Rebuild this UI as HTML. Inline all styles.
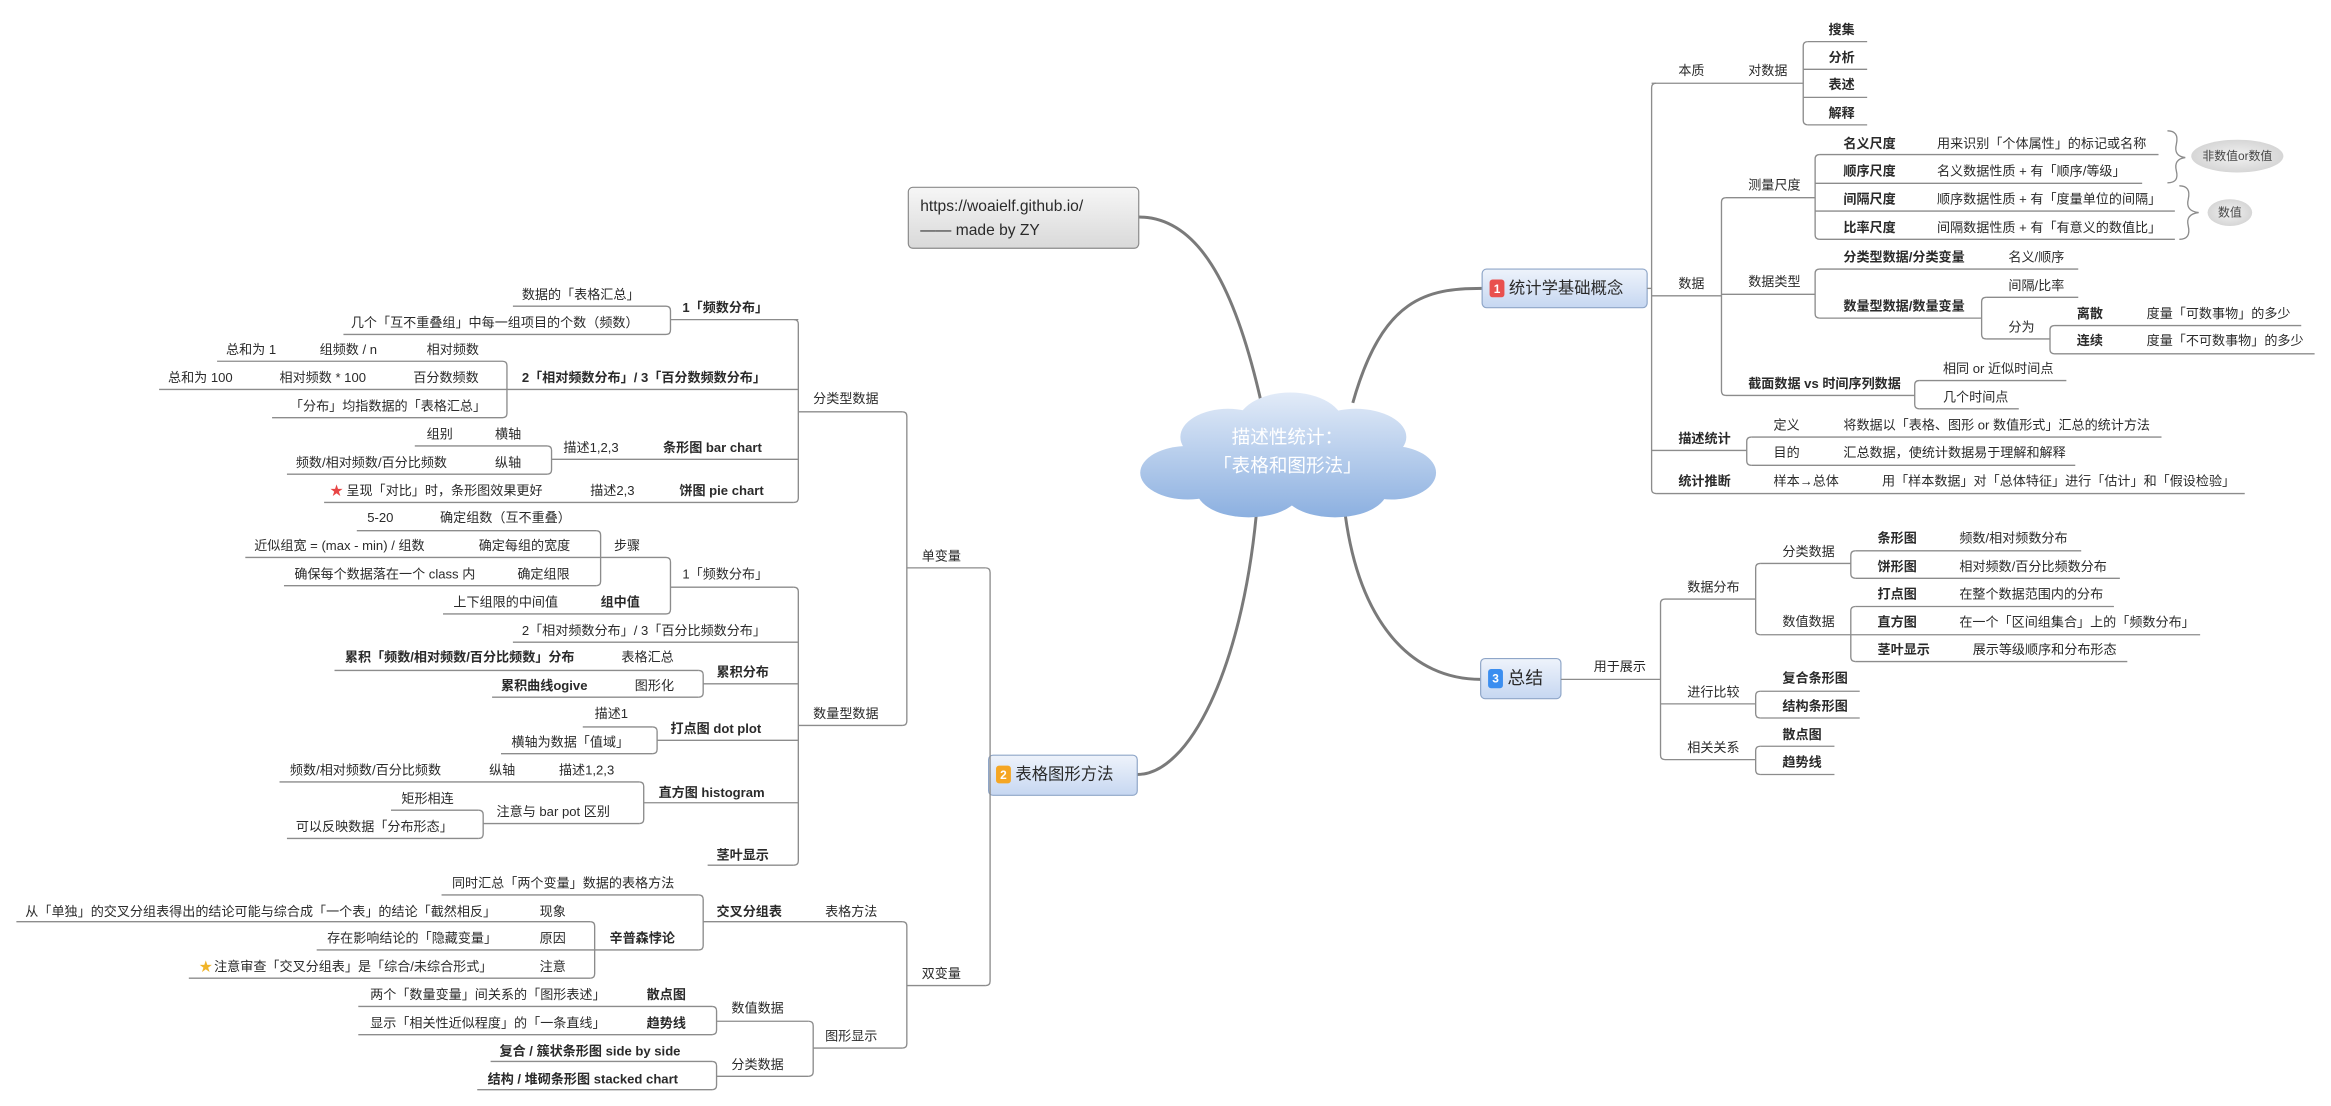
<!DOCTYPE html>
<html><head><meta charset="utf-8"><style>
html,body{margin:0;padding:0;background:#fff;}
svg{display:block}
text{font-family:"Liberation Sans","Noto Sans CJK SC",sans-serif;font-size:8.8px;fill:#2a2a2a;dominant-baseline:central}
.b{font-weight:bold}
.l{stroke:#8c8c8c;stroke-width:0.9;fill:none}
.c{stroke:#7a7a7a;stroke-width:2;fill:none}
</style></head><body>
<svg width="2331" height="1106" viewBox="0 0 1568 744" xmlns="http://www.w3.org/2000/svg">
<defs>
<linearGradient id="cg" x1="0" y1="264" x2="0" y2="348" gradientUnits="userSpaceOnUse"><stop offset="0" stop-color="#e2ebf8"/><stop offset="1" stop-color="#8cb0e0"/></linearGradient>
<linearGradient id="bg" x1="0" y1="0" x2="0" y2="1"><stop offset="0" stop-color="#eef3fb"/><stop offset="1" stop-color="#c6d7f1"/></linearGradient>
<linearGradient id="gg" x1="0" y1="0" x2="0" y2="1"><stop offset="0" stop-color="#f6f6f6"/><stop offset="1" stop-color="#d9d9d9"/></linearGradient>
<radialGradient id="eg"><stop offset="0" stop-color="#f2f2f2"/><stop offset="1" stop-color="#d6d6d6"/></radialGradient>
</defs>

<!-- central connectors -->
<path class="c" d="M766,146 C805,146 830,190 848,269"/>
<path class="c" d="M910,271 C930,200 960,194 997,194"/>
<path class="c" d="M845,347 C835,450 800,521 765,521"/>
<path class="c" d="M905,347 C915,420 950,457 996,457"/>

<!-- cloud -->
<g fill="url(#cg)">
<ellipse cx="866" cy="310" rx="62" ry="28"/>
<ellipse cx="868" cy="286" rx="36" ry="22"/>
<ellipse cx="826" cy="294" rx="32" ry="19"/>
<ellipse cx="912" cy="294" rx="34" ry="19"/>
<ellipse cx="799" cy="318" rx="32" ry="18"/>
<ellipse cx="936" cy="318" rx="30" ry="18"/>
<ellipse cx="840" cy="330" rx="35" ry="18"/>
<ellipse cx="898" cy="330" rx="35" ry="18"/>
</g>
<text x="866" y="294" text-anchor="middle" style="fill:#fff;font-size:12.5px">描述性统计：</text>
<text x="866" y="313" text-anchor="middle" style="fill:#fff;font-size:12.5px">「表格和图形法」</text>

<!-- URL box -->
<rect x="611" y="126" width="155" height="41" rx="3" fill="url(#gg)" stroke="#8a8a8a" stroke-width="0.8"/>
<text x="619" y="139" style="font-size:10.5px">https://woaielf.github.io/</text>
<text x="619" y="155" style="font-size:10.5px">—— made by ZY</text>

<!-- Box 1 -->
<rect x="997" y="181" width="111" height="26" rx="3" fill="url(#bg)" stroke="#8fa6c8" stroke-width="0.8"/>
<rect x="1002" y="188" width="10" height="12" rx="2" fill="#e9504e"/>
<text x="1007" y="194.5" text-anchor="middle" style="fill:#fff;font-size:8px" class="b">1</text>
<text x="1015" y="194" style="font-size:11px">统计学基础概念</text>
<!-- Box 2 -->
<rect x="665" y="508" width="100" height="27" rx="3" fill="url(#bg)" stroke="#8fa6c8" stroke-width="0.8"/>
<rect x="670" y="515" width="10" height="12" rx="2" fill="#f5a623"/>
<text x="675" y="521.5" text-anchor="middle" style="fill:#fff;font-size:8px" class="b">2</text>
<text x="683" y="521" style="font-size:11px">表格图形方法</text>
<!-- Box 3 -->
<rect x="996" y="443" width="54" height="27" rx="3" fill="url(#bg)" stroke="#8fa6c8" stroke-width="0.8"/>
<rect x="1001" y="450" width="10" height="13" rx="2" fill="#3b8ef0"/>
<text x="1006" y="456.5" text-anchor="middle" style="fill:#fff;font-size:8px" class="b">3</text>
<text x="1014" y="456" style="font-size:12px">总结</text>

<!-- LEFT SIDE lines -->
<g class="l">
<line x1="345" y1="206" x2="448" y2="206"/><line x1="231" y1="225" x2="448" y2="225"/>
<path d="M448,206 Q451,206 451,209 L451,222 Q451,225 448,225"/>
<line x1="451" y1="215" x2="537" y2="215"/>
<line x1="146" y1="243" x2="338" y2="243"/><line x1="107" y1="262" x2="537" y2="262"/><line x1="183" y1="281" x2="338" y2="281"/>
<path d="M338,243 Q341,243 341,246 L341,278 Q341,281 338,281"/>
<line x1="279" y1="300" x2="368" y2="300"/><line x1="193" y1="319" x2="368" y2="319"/>
<path d="M368,300 Q371,300 371,303 L371,316 Q371,319 368,319"/>
<line x1="371" y1="309" x2="537" y2="309"/>
<line x1="218" y1="338" x2="534" y2="338"/>
<path d="M534,215 Q537,215 537,218 L537,335 Q537,338 534,338"/>
<line x1="537" y1="277" x2="607" y2="277"/>

<line x1="240" y1="357" x2="401" y2="357"/><line x1="165" y1="375" x2="448" y2="375"/><line x1="191" y1="394" x2="401" y2="394"/>
<path d="M401,357 Q404,357 404,360 L404,391 Q404,394 401,394"/>
<line x1="451" y1="395" x2="534" y2="395"/><line x1="298" y1="413" x2="448" y2="413"/>
<path d="M448,375 Q451,375 451,378 L451,410 Q451,413 448,413"/>
<line x1="345" y1="432" x2="537" y2="432"/>
<line x1="225" y1="451" x2="470" y2="451"/><line x1="331" y1="469" x2="470" y2="469"/>
<path d="M470,451 Q473,451 473,454 L473,466 Q473,469 470,469"/>
<line x1="473" y1="460" x2="537" y2="460"/>
<line x1="392" y1="489" x2="439" y2="489"/><line x1="337" y1="507" x2="439" y2="507"/>
<path d="M439,489 Q442,489 442,492 L442,504 Q442,507 439,507"/>
<line x1="442" y1="498" x2="537" y2="498"/>
<line x1="188" y1="526" x2="430" y2="526"/><line x1="263" y1="545" x2="322" y2="545"/><line x1="193" y1="564" x2="322" y2="564"/>
<path d="M322,545 Q325,545 325,548 L325,561 Q325,564 322,564"/>
<line x1="325" y1="554" x2="430" y2="554"/>
<path d="M430,526 Q433,526 433,529 L433,551 Q433,554 430,554"/>
<line x1="433" y1="540" x2="537" y2="540"/>
<line x1="476" y1="582" x2="534" y2="582"/>
<path d="M534,395 Q537,395 537,398 L537,579 Q537,582 534,582"/>
<line x1="537" y1="488" x2="607" y2="488"/>
<path d="M607,277 Q610,277 610,280 L610,485 Q610,488 607,488"/>
<line x1="610" y1="382" x2="663" y2="382"/>

<line x1="297" y1="602" x2="470" y2="602"/><line x1="11" y1="620" x2="397" y2="620"/>
<line x1="213" y1="639" x2="470" y2="639"/><line x1="127" y1="658" x2="397" y2="658"/>
<path d="M397,620 Q400,620 400,623 L400,655 Q400,658 397,658"/>
<path d="M470,602 Q473,602 473,605 L473,636 Q473,639 470,639"/>
<line x1="473" y1="620" x2="607" y2="620"/>
<line x1="241" y1="677" x2="479" y2="677"/><line x1="241" y1="696" x2="479" y2="696"/>
<path d="M479,677 Q482,677 482,680 L482,693 Q482,696 479,696"/>
<line x1="482" y1="687" x2="544" y2="687"/>
<line x1="330" y1="714" x2="479" y2="714"/><line x1="321" y1="733" x2="479" y2="733"/>
<path d="M479,714 Q482,714 482,717 L482,730 Q482,733 479,733"/>
<line x1="482" y1="724" x2="544" y2="724"/>
<path d="M544,687 Q547,687 547,690 L547,721 Q547,724 544,724"/>
<line x1="547" y1="705" x2="607" y2="705"/>
<path d="M607,620 Q610,620 610,623 L610,702 Q610,705 607,705"/>
<line x1="610" y1="663" x2="663" y2="663"/>
<path d="M663,382 Q666,382 666,385 L666,660 Q666,663 663,663"/>
</g>

<!-- LEFT SIDE text -->
<text x="351" y="198">数据的「表格汇总」</text>
<text x="236" y="217">几个「互不重叠组」中每一组项目的个数（频数）</text>
<text x="459" y="207" class="b">1「频数分布」</text>
<text x="152" y="235">总和为 1</text><text x="215" y="235">组频数 / n</text><text x="287" y="235">相对频数</text>
<text x="113" y="254">总和为 100</text><text x="188" y="254">相对频数 * 100</text><text x="278" y="254">百分数频数</text>
<text x="351" y="254" class="b">2「相对频数分布」/ 3「百分数频数分布」</text>
<text x="195" y="273">「分布」均指数据的「表格汇总」</text>
<text x="287" y="292">组别</text><text x="333" y="292">横轴</text>
<text x="379" y="301">描述1,2,3</text><text x="446" y="301" class="b">条形图 bar chart</text>
<text x="199" y="311">频数/相对频数/百分比频数</text><text x="333" y="311">纵轴</text>
<text x="222" y="330" style="fill:#e84545">★</text><text x="233" y="330">呈现「对比」时，条形图效果更好</text>
<text x="397" y="330">描述2,3</text><text x="457" y="330" class="b">饼图 pie chart</text>
<text x="247" y="348">5-20</text><text x="296" y="348">确定组数（互不重叠）</text>
<text x="171" y="367">近似组宽 = (max - min) / 组数</text><text x="322" y="367">确定每组的宽度</text><text x="413" y="367">步骤</text>
<text x="198" y="386">确保每个数据落在一个 class 内</text><text x="348" y="386">确定组限</text>
<text x="459" y="386">1「频数分布」</text>
<text x="305" y="405">上下组限的中间值</text><text x="404" y="405" class="b">组中值</text>
<text x="351" y="424">2「相对频数分布」/ 3「百分比频数分布」</text>
<text x="232" y="442" class="b">累积「频数/相对频数/百分比频数」分布</text><text x="418" y="442">表格汇总</text>
<text x="482" y="452" class="b">累积分布</text>
<text x="337" y="461" class="b">累积曲线ogive</text><text x="427" y="461">图形化</text>
<text x="400" y="480">描述1</text>
<text x="451" y="490" class="b">打点图 dot plot</text>
<text x="344" y="499">横轴为数据「值域」</text>
<text x="195" y="518">频数/相对频数/百分比频数</text><text x="329" y="518">纵轴</text><text x="376" y="518">描述1,2,3</text>
<text x="443" y="533" class="b">直方图 histogram</text>
<text x="270" y="537">矩形相连</text>
<text x="334" y="546">注意与 bar pot 区别</text>
<text x="199" y="556">可以反映数据「分布形态」</text>
<text x="482" y="575" class="b">茎叶显示</text>
<text x="547" y="268">分类型数据</text><text x="547" y="480">数量型数据</text><text x="620" y="374">单变量</text>
<text x="304" y="594">同时汇总「两个变量」数据的表格方法</text>
<text x="482" y="613" class="b">交叉分组表</text><text x="555" y="613">表格方法</text>
<text x="17" y="613">从「单独」的交叉分组表得出的结论可能与综合成「一个表」的结论「截然相反」</text><text x="363" y="613">现象</text>
<text x="410" y="631" class="b">辛普森悖论</text>
<text x="220" y="631">存在影响结论的「隐藏变量」</text><text x="363" y="631">原因</text>
<text x="134" y="650" style="fill:#f0b429">★</text><text x="144" y="650">注意审查「交叉分组表」是「综合/未综合形式」</text><text x="363" y="650">注意</text>
<text x="249" y="669">两个「数量变量」间关系的「图形表述」</text><text x="435" y="669" class="b">散点图</text>
<text x="492" y="678">数值数据</text>
<text x="249" y="688">显示「相关性近似程度」的「一条直线」</text><text x="435" y="688" class="b">趋势线</text>
<text x="336" y="707" class="b">复合 / 簇状条形图 side by side</text>
<text x="492" y="716">分类数据</text>
<text x="328" y="726" class="b">结构 / 堆砌条形图 stacked chart</text>
<text x="555" y="697">图形显示</text><text x="620" y="655">双变量</text>

<!-- RIGHT SIDE 1 lines -->
<g class="l">
<line x1="1108" y1="194" x2="1111" y2="194"/>
<path d="M1114,56 Q1111,56 1111,59 L1111,329 Q1111,332 1114,332"/>
<line x1="1111" y1="56" x2="1213" y2="56"/>
<path d="M1216,28 Q1213,28 1213,31 L1213,81 Q1213,84 1216,84"/>
<line x1="1216" y1="28" x2="1256" y2="28"/><line x1="1213" y1="46.6" x2="1256" y2="46.6"/>
<line x1="1213" y1="65.5" x2="1256" y2="65.5"/><line x1="1216" y1="84" x2="1256" y2="84"/>
<line x1="1111" y1="199" x2="1158" y2="199"/>
<path d="M1161,133 Q1158,133 1158,136 L1158,263 Q1158,266 1161,266"/>
<line x1="1161" y1="133" x2="1221" y2="133"/>
<path d="M1224,104 Q1221,104 1221,107 L1221,158 Q1221,161 1224,161"/>
<line x1="1224" y1="104" x2="1452" y2="104"/><line x1="1221" y1="123.3" x2="1441" y2="123.3"/>
<line x1="1221" y1="142" x2="1463" y2="142"/><line x1="1224" y1="161" x2="1463" y2="161"/>
<line x1="1158" y1="198" x2="1221" y2="198"/>
<path d="M1224,181 Q1221,181 1221,184 L1221,211 Q1221,214 1224,214"/>
<line x1="1224" y1="181" x2="1398" y2="181"/><line x1="1224" y1="214" x2="1333" y2="214"/>
<path d="M1336,200 Q1333,200 1333,203 L1333,225 Q1333,228 1336,228"/>
<line x1="1336" y1="200" x2="1398" y2="200"/><line x1="1336" y1="228" x2="1379" y2="228"/>
<path d="M1382,219 Q1379,219 1379,222 L1379,235 Q1379,238 1382,238"/>
<line x1="1382" y1="219" x2="1548" y2="219"/><line x1="1382" y1="238" x2="1557" y2="238"/>
<line x1="1161" y1="266" x2="1288" y2="266"/>
<path d="M1291,256 Q1288,256 1288,259 L1288,272 Q1288,275 1291,275"/>
<line x1="1291" y1="256" x2="1390" y2="256"/><line x1="1291" y1="275" x2="1358" y2="275"/>
<line x1="1111" y1="303" x2="1175" y2="303"/>
<path d="M1178,294 Q1175,294 1175,297 L1175,310 Q1175,313 1178,313"/>
<line x1="1178" y1="294" x2="1454" y2="294"/><line x1="1178" y1="313" x2="1396" y2="313"/>
<line x1="1114" y1="332" x2="1510" y2="332"/>
<!-- braces -->
<path d="M1458,88 Q1466,88 1464,97 Q1462,105 1470,106 Q1462,107 1464,115 Q1466,123 1458,123"/>
<path d="M1466,125 Q1474,125 1472,134 Q1470,142 1479,143 Q1470,144 1472,152 Q1474,161 1466,161"/>
</g>
<ellipse cx="1505" cy="105" rx="31" ry="11" fill="url(#eg)"/>
<text x="1505" y="105" text-anchor="middle" style="font-size:8px;fill:#444">非数值or数值</text>
<ellipse cx="1500" cy="143" rx="15" ry="9" fill="url(#eg)"/>
<text x="1500" y="143" text-anchor="middle" style="font-size:8px;fill:#444">数值</text>

<!-- RIGHT SIDE 1 text -->
<text x="1129" y="47.5">本质</text><text x="1176" y="47.5">对数据</text>
<text x="1230" y="20" class="b">搜集</text><text x="1230" y="38.6" class="b">分析</text>
<text x="1230" y="57" class="b">表述</text><text x="1230" y="76" class="b">解释</text>
<text x="1129" y="190.6">数据</text>
<text x="1176" y="124.4">测量尺度</text>
<text x="1240" y="96.4" class="b">名义尺度</text><text x="1303" y="96.4">用来识别「个体属性」的标记或名称</text>
<text x="1240" y="115" class="b">顺序尺度</text><text x="1303" y="115">名义数据性质 + 有「顺序/等级」</text>
<text x="1240" y="134" class="b">间隔尺度</text><text x="1303" y="134">顺序数据性质 + 有「度量单位的间隔」</text>
<text x="1240" y="153" class="b">比率尺度</text><text x="1303" y="153">间隔数据性质 + 有「有意义的数值比」</text>
<text x="1176" y="189.5">数据类型</text>
<text x="1240" y="173" class="b">分类型数据/分类变量</text><text x="1351" y="173">名义/顺序</text>
<text x="1351" y="192">间隔/比率</text>
<text x="1240" y="206" class="b">数量型数据/数量变量</text>
<text x="1351" y="220">分为</text>
<text x="1397" y="211" class="b">离散</text><text x="1444" y="211">度量「可数事物」的多少</text>
<text x="1397" y="229" class="b">连续</text><text x="1444" y="229">度量「不可数事物」的多少</text>
<text x="1176" y="258" class="b">截面数据 vs 时间序列数据</text>
<text x="1307" y="248">相同 or 近似时间点</text><text x="1307" y="267">几个时间点</text>
<text x="1129" y="295" class="b">描述统计</text>
<text x="1193" y="286">定义</text><text x="1240" y="286">将数据以「表格、图形 or 数值形式」汇总的统计方法</text>
<text x="1193" y="304.5">目的</text><text x="1240" y="304.5">汇总数据，使统计数据易于理解和解释</text>
<text x="1129" y="323.5" class="b">统计推断</text><text x="1193" y="323.5">样本→总体</text>
<text x="1266" y="323.5">用「样本数据」对「总体特征」进行「估计」和「假设检验」</text>

<!-- RIGHT SIDE 3 lines -->
<g class="l">
<line x1="1050" y1="457" x2="1117" y2="457"/>
<path d="M1120,403 Q1117,403 1117,406 L1117,508 Q1117,511 1120,511"/>
<line x1="1120" y1="403" x2="1181" y2="403"/>
<path d="M1184,379 Q1181,379 1181,382 L1181,424 Q1181,427 1184,427"/>
<line x1="1184" y1="379" x2="1245" y2="379"/>
<path d="M1248,370.5 Q1245,370.5 1245,373.5 L1245,386 Q1245,389 1248,389"/>
<line x1="1248" y1="370.5" x2="1400" y2="370.5"/><line x1="1248" y1="389" x2="1426" y2="389"/>
<line x1="1184" y1="427" x2="1245" y2="427"/>
<path d="M1248,408 Q1245,408 1245,411 L1245,442 Q1245,445 1248,445"/>
<line x1="1248" y1="408" x2="1422" y2="408"/><line x1="1245" y1="427" x2="1480" y2="427"/>
<line x1="1248" y1="445" x2="1431" y2="445"/>
<line x1="1117" y1="473.5" x2="1181" y2="473.5"/>
<path d="M1184,465 Q1181,465 1181,468 L1181,480 Q1181,483 1184,483"/>
<line x1="1184" y1="465" x2="1251" y2="465"/><line x1="1184" y1="483" x2="1251" y2="483"/>
<line x1="1120" y1="511" x2="1181" y2="511"/>
<path d="M1184,502 Q1181,502 1181,505 L1181,518 Q1181,521 1184,521"/>
<line x1="1184" y1="502" x2="1234" y2="502"/><line x1="1184" y1="521" x2="1234" y2="521"/>
</g>
<text x="1072" y="448.5">用于展示</text>
<text x="1135" y="395">数据分布</text>
<text x="1199" y="371">分类数据</text>
<text x="1263" y="362" class="b">条形图</text><text x="1318" y="362">频数/相对频数分布</text>
<text x="1263" y="381" class="b">饼形图</text><text x="1318" y="381">相对频数/百分比频数分布</text>
<text x="1199" y="418">数值数据</text>
<text x="1263" y="399.5" class="b">打点图</text><text x="1318" y="399.5">在整个数据范围内的分布</text>
<text x="1263" y="418.5" class="b">直方图</text><text x="1318" y="418.5">在一个「区间组集合」上的「频数分布」</text>
<text x="1263" y="437" class="b">茎叶显示</text><text x="1327" y="437">展示等级顺序和分布形态</text>
<text x="1135" y="465.5">进行比较</text>
<text x="1199" y="456" class="b">复合条形图</text><text x="1199" y="475" class="b">结构条形图</text>
<text x="1135" y="503">相关关系</text>
<text x="1199" y="494" class="b">散点图</text><text x="1199" y="512.5" class="b">趋势线</text>
</svg>
</body></html>
